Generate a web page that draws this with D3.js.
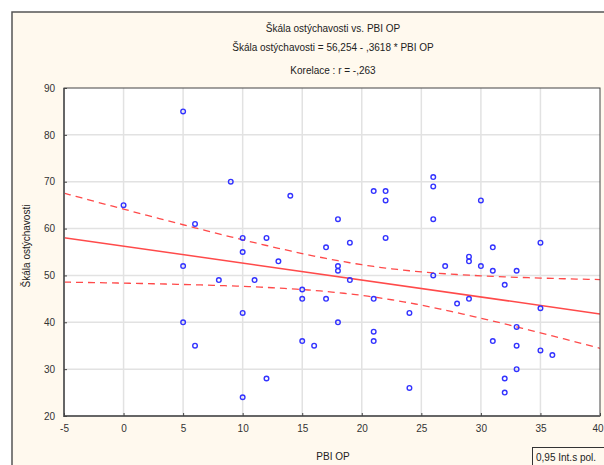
<!DOCTYPE html>
<html>
<head>
<meta charset="utf-8">
<script src="https://cdn.jsdelivr.net/npm/d3@7"></script>
<style>
  html, body { margin: 0; padding: 0; background: #ffffff; }
  svg { display: block; font-family: "Liberation Sans", Arial, sans-serif; }
</style>
</head>
<body>
<svg id="chart" width="604" height="465"></svg>
<script>
// PBI OP score and Škála ostýchavosti score for each respondent
const pbiOp = [0, 5, 5, 5, 6, 6, 8, 9, 10, 10, 10, 10, 11, 12, 12, 13, 14, 15, 15, 15,
  16, 17, 17, 18, 18, 18, 18, 19, 19, 21, 21, 21, 21, 22, 22, 22, 24, 24, 26, 26,
  26, 26, 27, 28, 29, 29, 29, 30, 30, 31, 31, 31, 32, 32, 32, 33, 33, 33, 33, 35,
  35, 35, 36];
const skala = [65, 85, 52, 40, 61, 35, 49, 70, 58, 55, 42, 24, 49, 58, 28, 53, 67, 47, 45, 36,
  35, 56, 45, 62, 52, 51, 40, 57, 49, 68, 45, 38, 36, 68, 66, 58, 42, 26, 71, 69,
  62, 50, 52, 44, 54, 53, 45, 66, 52, 56, 51, 36, 48, 28, 25, 51, 39, 35, 30, 57,
  43, 34, 33];

// fitted line as reported
const intercept = 56.254;
const slope = -0.3618;

const xTicks = [-5, 0, 5, 10, 15, 20, 25, 30, 35, 40];
const yTicks = [20, 30, 40, 50, 60, 70, 80, 90];

const titleLines = [
  "Škála ostýchavosti vs. PBI OP",
  "Škála ostýchavosti = 56,254 - ,3618  * PBI OP",
  "Korelace :  r = -,263"
];

const svg = d3.select("#chart");
const red = "#ff4a4a";

// panel background with frame
svg.append("rect").attr("x", 12).attr("y", 12).attr("width", 600).attr("height", 460)
  .attr("fill", "#fff9ee").attr("stroke", "#555").attr("stroke-width", 1.5);

const x = d3.scaleLinear().domain([-5, 40]).range([64, 600]);
const y = d3.scaleLinear().domain([20, 90]).range([416, 88]);

// plot area
svg.append("rect").attr("x", x(-5)).attr("y", y(90))
  .attr("width", x(40) - x(-5)).attr("height", y(20) - y(90))
  .attr("fill", "#ffffff");

// grid
const grid = svg.append("g").attr("stroke", "#e2e2e2").attr("stroke-width", 1.5);
grid.selectAll("line.v").data(xTicks.slice(1, -1)).join("line")
  .attr("x1", d => x(d)).attr("x2", d => x(d)).attr("y1", y(90)).attr("y2", y(20));
grid.selectAll("line.h").data(yTicks.slice(1, -1)).join("line")
  .attr("x1", x(-5)).attr("x2", x(40)).attr("y1", d => y(d)).attr("y2", d => y(d));

// confidence band (95 %) around the fitted line
const n = pbiOp.length;
const meanX = d3.mean(pbiOp);
const sxx = d3.sum(pbiOp, v => (v - meanX) ** 2);
const sse = d3.sum(pbiOp, (v, i) => (skala[i] - (intercept + slope * v)) ** 2);
const s = Math.sqrt(sse / (n - 2));
const tCrit = 2.0;
const xs = d3.range(-5, 40.01, 0.5);
const half = v => tCrit * s * Math.sqrt(1 / n + (v - meanX) ** 2 / sxx);

svg.append("clipPath").attr("id", "plotClip").append("rect")
  .attr("x", x(-5)).attr("y", y(90)).attr("width", x(40) - x(-5)).attr("height", y(20) - y(90));

const lines = svg.append("g").attr("clip-path", "url(#plotClip)");
const lineGen = d3.line().x(d => x(d[0])).y(d => y(d[1]));

lines.append("path")
  .attr("d", lineGen(xs.map(v => [v, intercept + slope * v + half(v)])))
  .attr("fill", "none").attr("stroke", red).attr("stroke-width", 1.3)
  .attr("stroke-dasharray", "7,5");
lines.append("path")
  .attr("d", lineGen(xs.map(v => [v, intercept + slope * v - half(v)])))
  .attr("fill", "none").attr("stroke", red).attr("stroke-width", 1.3)
  .attr("stroke-dasharray", "7,5");
lines.append("path")
  .attr("d", lineGen([[-5, intercept + slope * -5], [40, intercept + slope * 40]]))
  .attr("fill", "none").attr("stroke", red).attr("stroke-width", 1.5);

// points
svg.append("g").selectAll("circle").data(pbiOp).join("circle")
  .attr("cx", d => x(d)).attr("cy", (d, i) => y(skala[i])).attr("r", 2.3)
  .attr("fill", "none").attr("stroke", "#3333ff").attr("stroke-width", 1.4);

// plot frame
svg.append("rect").attr("x", x(-5)).attr("y", y(90))
  .attr("width", x(40) - x(-5)).attr("height", y(20) - y(90))
  .attr("fill", "none").attr("stroke", "#444").attr("stroke-width", 1);
svg.append("path")
  .attr("d", `M${x(-5)},${y(90)}V${y(20)}H${x(40)}`)
  .attr("fill", "none").attr("stroke", "#666").attr("stroke-width", 2);

// axes (plain hyphen for negative numbers)
const fmt = d => String(d);
const xAxis = svg.append("g").attr("transform", `translate(0,${y(20)})`)
  .call(d3.axisBottom(x).tickValues(xTicks).tickSize(-3).tickPadding(9).tickFormat(fmt));
const yAxis = svg.append("g").attr("transform", `translate(${x(-5)},0)`)
  .call(d3.axisLeft(y).tickValues(yTicks).tickSize(-3).tickPadding(9).tickFormat(fmt));
[xAxis, yAxis].forEach(a => {
  a.select(".domain").remove();
  a.selectAll(".tick line").attr("stroke", "#444");
  a.selectAll(".tick text").attr("fill", "#333").attr("font-size", 10)
    .attr("font-family", "Liberation Sans, Arial, sans-serif");
});
yAxis.selectAll(".tick text").attr("dy", "0.32em");
// last x label sits against the window edge
xAxis.selectAll(".tick text").filter(d => d === 40)
  .attr("text-anchor", "end").attr("x", 603 - x(40));

// titles
svg.append("g").selectAll("text").data(titleLines).join("text")
  .attr("x", 333).attr("y", (d, i) => [32, 51, 74][i])
  .attr("text-anchor", "middle").attr("font-size", 10).attr("fill", "#222")
  .text(d => d);

// axis titles
svg.append("text").attr("x", 333).attr("y", 460).attr("text-anchor", "middle")
  .attr("font-size", 10).attr("fill", "#222").text("PBI OP");
svg.append("text").attr("transform", "translate(30,246) rotate(-90)")
  .attr("text-anchor", "middle").attr("font-size", 10).attr("fill", "#222")
  .text("Škála ostýchavosti");

// legend box
svg.append("rect").attr("x", 532.5).attr("y", 447.5).attr("width", 90).attr("height", 30)
  .attr("fill", "#fff9ee").attr("stroke", "#333").attr("stroke-width", 1);
svg.append("text").attr("x", 536).attr("y", 461).attr("font-size", 10).attr("fill", "#222")
  .text("0,95 Int.s pol.");
</script>
</body>
</html>
